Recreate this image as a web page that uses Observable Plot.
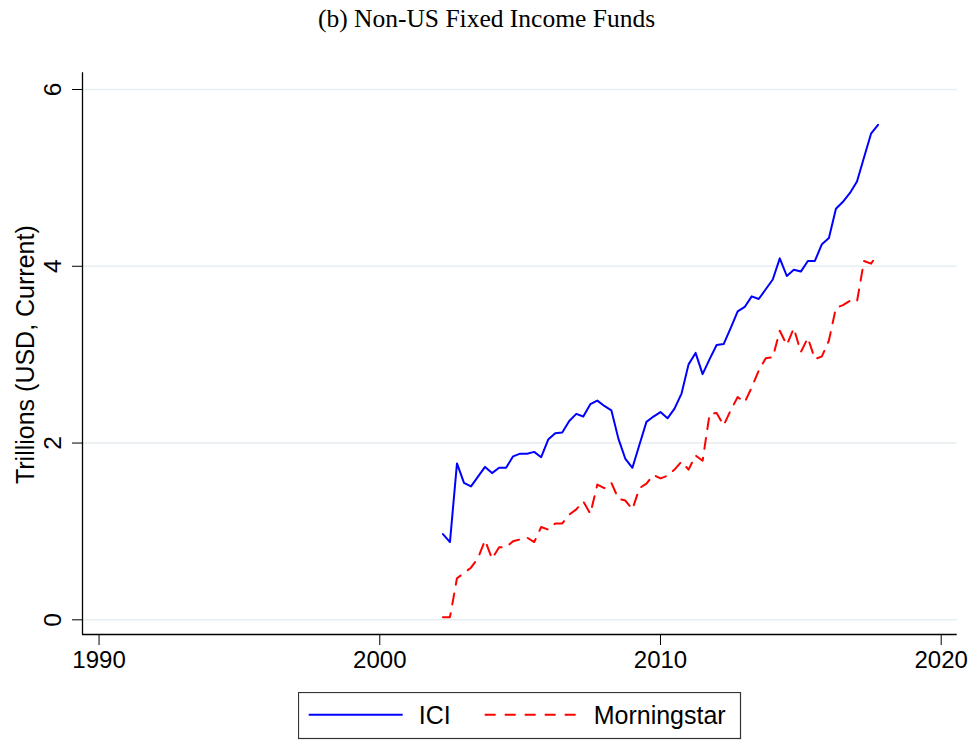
<!DOCTYPE html>
<html><head><meta charset="utf-8">
<script src="https://cdn.jsdelivr.net/npm/d3@7"></script>
<script src="https://cdn.jsdelivr.net/npm/@observablehq/plot@0.6"></script>
<style>
html,body{margin:0;padding:0;background:#fff;overflow:hidden}
#wrap{position:relative;width:973px;height:740px}
#title{position:absolute;left:0;top:6px;width:973px;text-align:center;font-family:"Liberation Serif","Times New Roman",serif;font-size:25.5px;line-height:25px;color:#000;white-space:nowrap}
#chart{position:absolute;left:0;top:44px}
#legend{position:absolute;left:298px;top:692px}
</style></head><body>
<div id="wrap">
<div id="title">(b) Non-US Fixed Income Funds</div>
<div id="chart"></div>
<div id="legend"></div>
</div>
<script>
// ---- data ----
const titleText = "(b) Non-US Fixed Income Funds";
const yTitle = "Trillions (USD, Current)";
const seriesNames = ["ICI", "Morningstar"];
const startYear = 2002.25;   // first quarter shown
const quarterStep = 0.25;
const iciValues = [
  0.97, 0.88, 1.77, 1.55, 1.51, 1.62, 1.73, 1.66, 1.72, 1.72,
  1.85, 1.88, 1.88, 1.90, 1.84, 2.04, 2.11, 2.12, 2.25, 2.33,
  2.30, 2.44, 2.48, 2.42, 2.37, 2.05, 1.82, 1.72, 1.98, 2.24,
  2.30, 2.35, 2.28, 2.39, 2.56, 2.89, 3.02, 2.78, 2.95, 3.11,
  3.12, 3.30, 3.49, 3.54, 3.66, 3.63, 3.74, 3.85, 4.09, 3.89,
  3.96, 3.94, 4.06, 4.06, 4.25, 4.32, 4.65, 4.73, 4.83, 4.96,
  5.23, 5.50, 5.60
];
const morningstarValues = [
  0.03, 0.03, 0.47, 0.53, 0.59, 0.70, 0.90, 0.69, 0.82, 0.82,
  0.89, 0.91, 0.93, 0.88, 1.05, 1.02, 1.09, 1.09, 1.19, 1.25,
  1.34, 1.20, 1.53, 1.49, 1.55, 1.37, 1.35, 1.25, 1.49, 1.54,
  1.64, 1.60, 1.63, 1.70, 1.79, 1.70, 1.86, 1.80, 2.33, 2.34,
  2.20, 2.37, 2.52, 2.46, 2.63, 2.82, 2.96, 2.97, 3.27, 3.11,
  3.30, 3.03, 3.19, 2.95, 2.98, 3.16, 3.53, 3.56, 3.61, 3.60,
  4.06, 4.03, 4.14
];
const xTicks = [1990, 2000, 2010, 2020];
const yTicks = [0, 2, 4, 6];

// ---- build table ----
const rows = [];
iciValues.forEach((v, i) => rows.push({series: seriesNames[0], date: startYear + i * quarterStep, value: v}));
morningstarValues.forEach((v, i) => rows.push({series: seriesNames[1], date: startYear + i * quarterStep, value: v}));

const X_DOMAIN = [1989.41, 2020.57];
const Y_DOMAIN = [-0.166, 6.189];
const FONT = "'Liberation Sans', Arial, Helvetica, sans-serif";
const BLUE = "#0000ff", RED = "#ff0000", DASH = "11,9";
const yMid = (yTicks[0] + yTicks[yTicks.length - 1]) / 2;

const chart = Plot.plot({
  width: 973,
  height: 636,
  marginLeft: 82,
  marginRight: 16.3,
  marginTop: 28.3,
  marginBottom: 46,
  x: {domain: X_DOMAIN, ticks: xTicks, tickSize: 11, tickPadding: 0, tickFormat: () => "", label: null},
  y: {domain: Y_DOMAIN, ticks: yTicks, tickSize: 10, tickPadding: 0, tickFormat: () => "", label: null},
  style: {fontFamily: FONT, background: "#fff", color: "#000", overflow: "visible"},
  marks: [
    Plot.ruleY(yTicks, {stroke: "#e6eef1", strokeWidth: 1.5}),
    Plot.ruleX([X_DOMAIN[0]], {stroke: "#000", strokeWidth: 1.3}),
    Plot.ruleY([Y_DOMAIN[0]], {stroke: "#000", strokeWidth: 1.3}),
    Plot.text(yTicks, {y: d => d, frameAnchor: "left", dx: -29.5, rotate: -90, textAnchor: "middle", lineAnchor: "middle", text: d => String(d), fontSize: 24.5, fill: "#000"}),
    Plot.text(xTicks, {x: d => d, frameAnchor: "bottom", dy: 25.5, textAnchor: "middle", lineAnchor: "middle", text: d => String(d), fontSize: 24, fill: "#000"}),
    Plot.text([yTitle], {y: () => yMid, frameAnchor: "left", dx: -57, rotate: -90, textAnchor: "middle", lineAnchor: "middle", text: d => d, fontSize: 25, fill: "#000"}),
    Plot.line(rows.filter(d => d.series === seriesNames[0]), {x: "date", y: "value", stroke: BLUE, strokeWidth: 2}),
    Plot.line(rows.filter(d => d.series === seriesNames[1]), {x: "date", y: "value", stroke: RED, strokeWidth: 2, strokeDasharray: DASH})
  ]
});
document.getElementById("chart").appendChild(chart);

// ---- legend ----
const lg = d3.select("#legend").append("svg").attr("width", 444).attr("height", 48)
  .style("font-family", FONT).style("display", "block");
lg.append("rect").attr("x", 0.5).attr("y", 0.5).attr("width", 442).attr("height", 46)
  .attr("fill", "#fff").attr("stroke", "#333").attr("stroke-width", 1.2);
const items = [
  {name: seriesNames[0], color: BLUE, dash: null, x1: 10.7, x2: 104.7, tx: 120.7},
  {name: seriesNames[1], color: RED, dash: DASH, x1: 186.7, x2: 280.7, tx: 295.7}
];
items.forEach(it => {
  lg.append("line").attr("x1", it.x1).attr("x2", it.x2).attr("y1", 22.7).attr("y2", 22.7)
    .attr("stroke", it.color).attr("stroke-width", 2).attr("stroke-dasharray", it.dash);
  lg.append("text").attr("x", it.tx).attr("y", 31.6).attr("font-size", 25).attr("fill", "#000").text(it.name);
});
</script>
</body></html>
